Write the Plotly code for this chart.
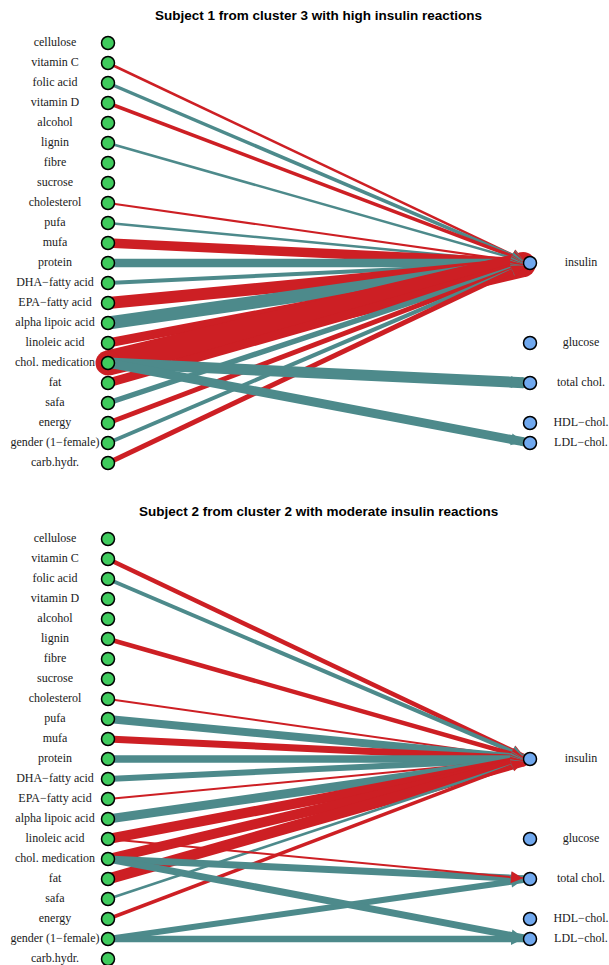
import math
import plotly.graph_objects as go

# ---------------- data ----------------
inputs = ["cellulose", "vitamin C", "folic acid", "vitamin D", "alcohol", "lignin",
          "fibre", "sucrose", "cholesterol", "pufa", "mufa", "protein",
          "DHA\u2212fatty acid", "EPA\u2212fatty acid", "alpha lipoic acid",
          "linoleic acid", "chol. medication", "fat", "safa", "energy",
          "gender (1\u2212female)", "carb.hydr."]
outputs = ["insulin", "glucose", "total chol.", "HDL\u2212chol.", "LDL\u2212chol."]
output_rows = [11, 15, 17, 19, 20]

titles = ["Subject 1 from cluster 3 with high insulin reactions",
          "Subject 2 from cluster 2 with moderate insulin reactions"]

# subject 1 edges (sign: + red, - teal; magnitude = edge strength)
s1_from = ["vitamin C", "folic acid", "vitamin D", "lignin", "cholesterol", "pufa",
           "mufa", "protein", "DHA\u2212fatty acid", "EPA\u2212fatty acid",
           "alpha lipoic acid", "linoleic acid", "chol. medication", "fat", "safa",
           "energy", "gender (1\u2212female)", "carb.hydr.",
           "chol. medication", "chol. medication"]
s1_to = ["insulin"] * 18 + ["total chol.", "LDL\u2212chol."]
s1_effect = [2.5, -3.5, 3.5, -2.5, 2.2, -2.5,
             9.5, -8.5, -4.0, 12.0,
             -13.0, 9.0, 25.0, 9.0, -5.5,
             5.0, -4.0, 5.0,
             -11.0, -9.0]

# subject 2 edges
s2_from = ["vitamin C", "folic acid", "lignin", "cholesterol", "pufa", "mufa",
           "protein", "DHA\u2212fatty acid", "EPA\u2212fatty acid", "alpha lipoic acid",
           "linoleic acid", "chol. medication", "fat", "safa", "energy",
           "chol. medication", "gender (1\u2212female)", "linoleic acid",
           "chol. medication", "gender (1\u2212female)"]
s2_to = ["insulin"] * 15 + ["total chol.", "total chol.", "total chol.",
                            "LDL\u2212chol.", "LDL\u2212chol."]
s2_effect = [4.5, -4.0, 4.5, 2.0, -8.0, 7.0,
             -7.5, -6.0, 2.0, -9.0,
             10.0, 10.0, 11.0, -2.5, 3.5,
             -7.0, -6.0, 2.0,
             -7.0, -6.5]

subjects = [(s1_from, s1_to, s1_effect), (s2_from, s2_to, s2_effect)]

# ---------------- style / layout ----------------
RED = "#CD1F24"
TEAL = "#4D8A8B"
GREEN = "#3FCB5D"
BLUE = "#70A8EE"

W, H = 609, 965
X_LEFT_PX, X_RIGHT_PX = 108, 530
SPAN = X_RIGHT_PX - X_LEFT_PX
ROW_PX = 20
FIRST_ROW_PX = [43, 539]
PANEL_PX = [(0, H / 2), (H / 2, H)]
TITLE_Y_PX = [16, 511]
TITLE_X_PX = 318
LABEL_LEFT_PX = 55
LABEL_RIGHT_PX = 581
NODE_R = 7
ARROW_LEN = 14

fig = go.Figure()
annotations = []

for p, (e_from, e_to, e_eff) in enumerate(subjects):
    xa = "x" if p == 0 else "x2"
    ya = "y" if p == 0 else "y2"
    # edges
    for src, tgt, eff in zip(e_from, e_to, e_eff):
        sy = inputs.index(src)
        ty = output_rows[outputs.index(tgt)]
        color = RED if eff > 0 else TEAL
        w = abs(eff)
        dx = SPAN * 1.0
        dy = ROW_PX * (ty - sy)
        L = math.hypot(dx, dy)
        ux, uy = dx / L, dy / L
        xe = 1 - ux * NODE_R / SPAN
        ye = ty - uy * NODE_R / ROW_PX
        fig.add_trace(go.Scatter(
            x=[0, xe], y=[sy, ye], mode="lines+markers",
            line=dict(color=color, width=w),
            marker=dict(size=w, color=color, line=dict(width=0)),
            hoverinfo="skip", showlegend=False, xaxis=xa, yaxis=ya))
        annotations.append(dict(
            x=1, y=ty, xref=xa, yref=ya, text="", showarrow=True,
            ax=-ux * ARROW_LEN, ay=-uy * ARROW_LEN, axref="pixel", ayref="pixel",
            arrowhead=2, arrowsize=2.0, arrowwidth=min(w, 1.2),
            arrowcolor=color, standoff=NODE_R))
    # nodes
    fig.add_trace(go.Scatter(
        x=[0] * len(inputs), y=list(range(len(inputs))), mode="markers",
        marker=dict(size=13, color=GREEN, line=dict(color="black", width=1.5)),
        hoverinfo="skip", showlegend=False, xaxis=xa, yaxis=ya))
    fig.add_trace(go.Scatter(
        x=[1] * len(outputs), y=output_rows, mode="markers",
        marker=dict(size=13, color=BLUE, line=dict(color="black", width=1.5)),
        hoverinfo="skip", showlegend=False, xaxis=xa, yaxis=ya))
    # labels
    fig.add_trace(go.Scatter(
        x=[(LABEL_LEFT_PX - X_LEFT_PX) / SPAN] * len(inputs), y=list(range(len(inputs))),
        mode="text", text=inputs, textposition="middle center",
        textfont=dict(family="Liberation Serif", size=12, color="#1a1a1a"),
        hoverinfo="skip", showlegend=False, xaxis=xa, yaxis=ya))
    fig.add_trace(go.Scatter(
        x=[(LABEL_RIGHT_PX - X_LEFT_PX) / SPAN] * len(outputs), y=output_rows,
        mode="text", text=outputs, textposition="middle center",
        textfont=dict(family="Liberation Serif", size=12, color="#1a1a1a"),
        hoverinfo="skip", showlegend=False, xaxis=xa, yaxis=ya))
    # title
    annotations.append(dict(
        x=TITLE_X_PX / W, y=1 - TITLE_Y_PX[p] / H, xref="paper", yref="paper",
        text="<b>" + titles[p] + "</b>", showarrow=False,
        xanchor="center", yanchor="middle",
        font=dict(family="Liberation Sans", size=13.5, color="black")))

def yrange(p):
    top, bot = PANEL_PX[p]
    first = FIRST_ROW_PX[p]
    return [(bot - first) / ROW_PX, (top - first) / ROW_PX]

xr = [(0 - X_LEFT_PX) / SPAN, (W - X_LEFT_PX) / SPAN]
axis_common = dict(visible=False, showgrid=False, zeroline=False, fixedrange=True)

fig.update_layout(
    width=W, height=H, autosize=False,
    margin=dict(l=0, r=0, t=0, b=0),
    paper_bgcolor="white", plot_bgcolor="white",
    showlegend=False,
    xaxis=dict(range=xr, domain=[0, 1], anchor="y", **axis_common),
    yaxis=dict(range=yrange(0), domain=[0.5, 1], anchor="x", **axis_common),
    xaxis2=dict(range=xr, domain=[0, 1], anchor="y2", **axis_common),
    yaxis2=dict(range=yrange(1), domain=[0, 0.5], anchor="x2", **axis_common),
    annotations=annotations,
)

fig.write_html("out.html")
